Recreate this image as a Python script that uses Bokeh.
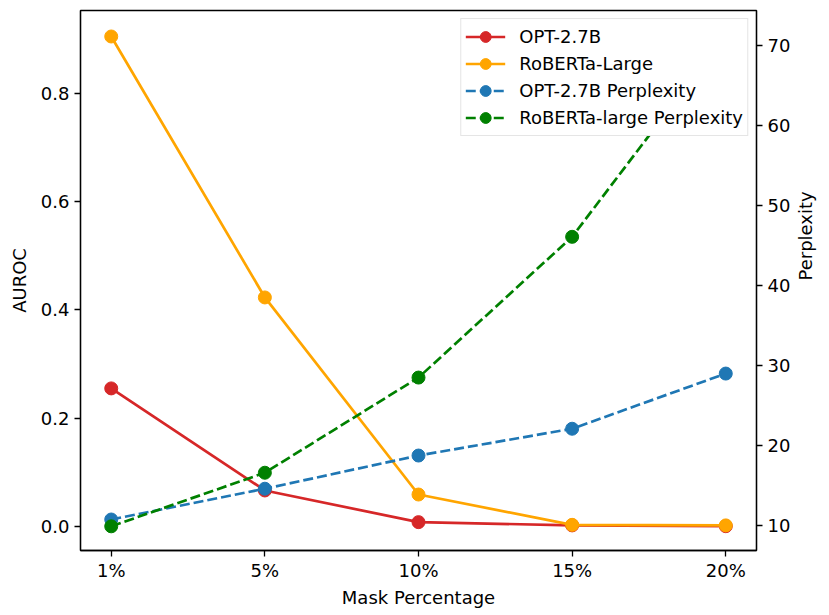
import math
from bokeh.plotting import figure
from bokeh.models import Range1d, LinearAxis, FixedTicker, Legend, LegendItem, NumeralTickFormatter
from bokeh.embed import file_html
from bokeh.resources import INLINE

categories = ["1%", "5%", "10%", "15%", "20%"]
opt_auroc = [0.255, 0.0665, 0.008, 0.002, 0.0005]
roberta_auroc = [0.905, 0.423, 0.059, 0.003, 0.002]
opt_ppl = [10.75, 14.6, 18.75, 22.1, 29.0]
roberta_ppl = [9.9, 16.6, 28.5, 46.1, 71.4]

xs = list(range(len(categories)))
FONT = "DejaVu Sans"
FS = "18px"

W, H = 829, 610
p = figure(width=W, height=H, output_backend="svg", toolbar_location=None,
           x_range=Range1d(-0.2, 4.2), y_range=Range1d(-0.0444, 0.953),
           min_border_left=80, min_border_right=W - 758, min_border_top=10,
           min_border_bottom=H - 550)
p.extra_y_ranges = {"ppl": Range1d(6.875, 74.4)}
p.grid.visible = False
p.outline_line_color = "black"
p.outline_line_width = 1.3
p.outline_line_alpha = 1.0

right = LinearAxis(y_range_name="ppl", axis_label="Perplexity")
p.add_layout(right, "right")

p.xaxis.ticker = FixedTicker(ticks=xs)
p.xaxis.major_label_overrides = {i: c for i, c in enumerate(categories)}
p.xaxis.axis_label = "Mask Percentage"
p.yaxis[0].ticker = FixedTicker(ticks=[0.0, 0.2, 0.4, 0.6, 0.8])
p.yaxis[0].axis_label = "AUROC"
p.yaxis[0].formatter = NumeralTickFormatter(format="0.0")
right.ticker = FixedTicker(ticks=[10, 20, 30, 40, 50, 60, 70])

for ax in p.axis:
    ax.major_label_text_font = FONT
    ax.major_label_text_font_size = FS
    ax.major_label_text_color = "black"
    ax.axis_label_text_font = FONT
    ax.axis_label_text_font_size = FS
    ax.axis_label_text_font_style = "normal"
    ax.axis_label_text_color = "black"
    ax.axis_line_color = "black"
    ax.axis_line_width = 1.3
    ax.major_tick_line_color = "black"
    ax.major_tick_line_width = 1.3
    ax.major_tick_out = 6
    ax.major_tick_in = 0
    ax.minor_tick_line_color = None
    ax.major_label_standoff = 5
    ax.axis_label_standoff = 8

p.xaxis.major_label_standoff = 3
p.xaxis.axis_label_standoff = 3
right.axis_label_orientation = math.pi / 2
right.axis_label_standoff = 12

LW = 2.7
MS = 13
DASH = "10 4"
r1l = p.line(xs, opt_auroc, line_color="#d62728", line_width=LW)
r1s = p.scatter(xs, opt_auroc, size=MS, color="#d62728")
r2l = p.line(xs, roberta_auroc, line_color="#ffa500", line_width=LW)
r2s = p.scatter(xs, roberta_auroc, size=MS, color="#ffa500")
r3l = p.line(xs, opt_ppl, line_color="#1f77b4", line_width=LW, line_dash=DASH, y_range_name="ppl")
r3s = p.scatter(xs, opt_ppl, size=MS, color="#1f77b4", y_range_name="ppl")
r4l = p.line(xs, roberta_ppl, line_color="#008000", line_width=LW, line_dash=DASH, y_range_name="ppl")
r4s = p.scatter(xs, roberta_ppl, size=MS, color="#008000", y_range_name="ppl")

legend = Legend(items=[
    LegendItem(label="OPT-2.7B", renderers=[r1l, r1s]),
    LegendItem(label="RoBERTa-Large", renderers=[r2l, r2s]),
    LegendItem(label="OPT-2.7B Perplexity", renderers=[r3l, r3s]),
    LegendItem(label="RoBERTa-large Perplexity", renderers=[r4l, r4s]),
], location="top_right")
legend.label_text_font = FONT
legend.label_text_font_size = FS
legend.label_text_color = "black"
legend.border_line_color = "#cccccc"
legend.border_line_width = 1.2
legend.background_fill_alpha = 1.0
legend.margin = 8
legend.padding = 4
legend.spacing = 0
legend.glyph_width = 40
legend.glyph_height = 27
legend.label_height = 27
legend.label_standoff = 14
p.add_layout(legend)

open("out.html", "w").write(file_html(p, INLINE))
